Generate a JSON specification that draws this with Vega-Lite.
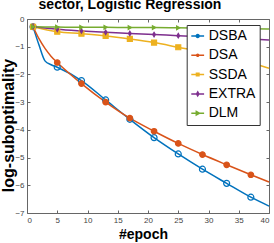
{
  "$schema": "https://vega.github.io/schema/vega-lite/v6.json",
  "autosize": {"type": "none"},
  "width": 242,
  "height": 194,
  "padding": {"left": 27, "top": 19, "right": 5, "bottom": 30},
  "config": {
    "font": "Liberation Sans",
    "view": {"stroke": null},
    "axis": {
      "grid": false,
      "domainColor": "#666",
      "tickColor": "#666",
      "labelColor": "#444",
      "labelFontSize": 8,
      "tickSize": -3,
      "labelPadding": 6,
      "titleColor": "black",
      "titleFontWeight": "bold"
    }
  },
  "title": {
    "text": "sector, Logistic Regression",
    "fontSize": 14,
    "fontWeight": "bold",
    "anchor": "middle",
    "dx": -18,
    "dy": 11,
    "baseline": "alphabetic",
    "offset": 3,
    "color": "black"
  },
  "data": {
    "values": [
      {"s": "DSBA", "e": 1, "v": -0.28}, {"s": "DSBA", "e": 2, "v": -0.95}, {"s": "DSBA", "e": 3, "v": -1.52}, {"s": "DSBA", "e": 4, "v": -1.65},
      {"s": "DSBA", "e": 5, "v": -1.74}, {"s": "DSBA", "e": 9, "v": -2.22}, {"s": "DSBA", "e": 13, "v": -2.92}, {"s": "DSBA", "e": 17, "v": -3.62},
      {"s": "DSBA", "e": 21, "v": -4.28}, {"s": "DSBA", "e": 25, "v": -4.87}, {"s": "DSBA", "e": 29, "v": -5.42}, {"s": "DSBA", "e": 33, "v": -5.93},
      {"s": "DSBA", "e": 37, "v": -6.43}, {"s": "DSBA", "e": 40, "v": -6.75},
      {"s": "DSA", "e": 1, "v": -0.28}, {"s": "DSA", "e": 2, "v": -0.72}, {"s": "DSA", "e": 3, "v": -1.07}, {"s": "DSA", "e": 4, "v": -1.35},
      {"s": "DSA", "e": 5, "v": -1.57}, {"s": "DSA", "e": 9, "v": -2.33}, {"s": "DSA", "e": 13, "v": -3.0}, {"s": "DSA", "e": 17, "v": -3.58},
      {"s": "DSA", "e": 21, "v": -4.05}, {"s": "DSA", "e": 25, "v": -4.49}, {"s": "DSA", "e": 29, "v": -4.89}, {"s": "DSA", "e": 33, "v": -5.26},
      {"s": "DSA", "e": 37, "v": -5.62}, {"s": "DSA", "e": 40, "v": -5.88},
      {"s": "SSDA", "e": 1, "v": -0.28}, {"s": "SSDA", "e": 5, "v": -0.46}, {"s": "SSDA", "e": 9, "v": -0.53}, {"s": "SSDA", "e": 13, "v": -0.61},
      {"s": "SSDA", "e": 17, "v": -0.72}, {"s": "SSDA", "e": 21, "v": -0.85}, {"s": "SSDA", "e": 25, "v": -1.02}, {"s": "SSDA", "e": 29, "v": -1.19},
      {"s": "SSDA", "e": 33, "v": -1.38}, {"s": "SSDA", "e": 37, "v": -1.58}, {"s": "SSDA", "e": 40, "v": -1.78},
      {"s": "EXTRA", "e": 1, "v": -0.28}, {"s": "EXTRA", "e": 5, "v": -0.37}, {"s": "EXTRA", "e": 9, "v": -0.43}, {"s": "EXTRA", "e": 13, "v": -0.48},
      {"s": "EXTRA", "e": 17, "v": -0.52}, {"s": "EXTRA", "e": 21, "v": -0.56}, {"s": "EXTRA", "e": 25, "v": -0.6}, {"s": "EXTRA", "e": 29, "v": -0.64},
      {"s": "EXTRA", "e": 33, "v": -0.68}, {"s": "EXTRA", "e": 37, "v": -0.72}, {"s": "EXTRA", "e": 40, "v": -0.76},
      {"s": "DLM", "e": 1, "v": -0.28}, {"s": "DLM", "e": 5, "v": -0.29}, {"s": "DLM", "e": 9, "v": -0.3}, {"s": "DLM", "e": 13, "v": -0.3},
      {"s": "DLM", "e": 17, "v": -0.31}, {"s": "DLM", "e": 21, "v": -0.31}, {"s": "DLM", "e": 25, "v": -0.32}, {"s": "DLM", "e": 29, "v": -0.33},
      {"s": "DLM", "e": 33, "v": -0.34}, {"s": "DLM", "e": 37, "v": -0.35}, {"s": "DLM", "e": 40, "v": -0.36}
    ]
  },
  "layer": [
    {
      "mark": {"type": "line", "strokeWidth": 1.5, "interpolate": "monotone"},
      "encoding": {
        "x": {
          "field": "e", "type": "quantitative",
          "scale": {"domain": [0, 40], "nice": false, "zero": false},
          "axis": {"orient": "bottom", "values": [0, 5, 10, 15, 20, 25, 30, 35, 40], "title": "#epoch", "titleFontSize": 14, "titleX": 116, "titleY": 25, "titleBaseline": "alphabetic"}
        },
        "y": {
          "field": "v", "type": "quantitative",
          "scale": {"domain": [-7, 0], "nice": false},
          "axis": {"orient": "left", "values": [-7, -6, -5, -4, -3, -2, -1, 0], "title": "log-suboptimality", "titleFontSize": 16, "titleX": -19, "titleY": 106, "titleBaseline": "middle", "titleAngle": 270}
        },
        "color": {
          "field": "s", "type": "nominal",
          "scale": {"domain": ["DSBA", "DSA", "SSDA", "EXTRA", "DLM"], "range": ["#0072BD", "#D95319", "#EDB120", "#7E2F8E", "#77AC30"]},
          "legend": null
        }
      }
    },
    {
      "transform": [{"filter": "(datum.e - 1) % 4 == 0"}],
      "mark": {"type": "point", "strokeWidth": 1.2, "opacity": 1},
      "encoding": {
        "x": {
          "field": "e", "type": "quantitative",
          "axis": {"orient": "top", "labels": false, "title": null, "values": [0, 5, 10, 15, 20, 25, 30, 35, 40]}
        },
        "y": {
          "field": "v", "type": "quantitative",
          "axis": {"orient": "right", "labels": false, "title": null, "values": [-7, -6, -5, -4, -3, -2, -1, 0]}
        },
        "shape": {
          "field": "s", "type": "nominal",
          "scale": {"domain": ["DSBA", "DSA", "SSDA", "EXTRA", "DLM"], "range": ["circle", "circle", "square", "M0,-1L0.6,0L0,1L-0.6,0Z", "triangle-right"]},
          "legend": null
        },
        "stroke": {
          "field": "s", "type": "nominal",
          "scale": {"domain": ["DSBA", "DSA", "SSDA", "EXTRA", "DLM"], "range": ["#0072BD", "#D95319", "#EDB120", "#7E2F8E", "#77AC30"]},
          "legend": null
        },
        "fill": {
          "field": "s", "type": "nominal",
          "scale": {"domain": ["DSBA", "DSA", "SSDA", "EXTRA", "DLM"], "range": ["transparent", "#D95319", "#EDB120", "#7E2F8E", "#77AC30"]},
          "legend": null
        },
        "size": {
          "field": "s", "type": "nominal",
          "scale": {"domain": ["DSBA", "DSA", "SSDA", "EXTRA", "DLM"], "range": [36, 14, 16, 36, 30]},
          "legend": null
        }
      }
    },
    {
      "transform": [{"filter": "false"}],
      "mark": {"type": "point", "size": 289, "strokeWidth": 1.5, "opacity": 1},
      "encoding": {
        "shape": {
          "field": "s", "type": "nominal",
          "scale": {"domain": ["DSBA", "DSA", "SSDA", "EXTRA", "DLM"], "range": [
            "M-1.28,0H1.28M-0.3,0A0.3,0.3 0 1,0 0.3,0A0.3,0.3 0 1,0 -0.3,0Z",
            "M-1.28,0H1.28M-0.2,0A0.2,0.2 0 1,0 0.2,0A0.2,0.2 0 1,0 -0.2,0Z",
            "M-1.28,0H1.28M-0.25,-0.25H0.25V0.25H-0.25Z",
            "M-1.28,0H1.28M0,-0.38L0.22,0L0,0.38L-0.22,0Z",
            "M-1.28,0H1.28M-0.28,-0.34L0.34,0L-0.28,0.34Z"
          ]},
          "legend": {
            "orient": "none", "legendX": 159.7, "legendY": 6, "direction": "vertical",
            "title": null, "labelFontSize": 14, "labelColor": "black", "padding": 4,
            "strokeColor": "#333", "fillColor": "white", "labelOffset": 4, "rowPadding": 5.3,
            "symbolStrokeWidth": 1.5
          }
        },
        "stroke": {
          "field": "s", "type": "nominal",
          "scale": {"domain": ["DSBA", "DSA", "SSDA", "EXTRA", "DLM"], "range": ["#0072BD", "#D95319", "#EDB120", "#7E2F8E", "#77AC30"]}
        },
        "fill": {
          "field": "s", "type": "nominal",
          "scale": {"domain": ["DSBA", "DSA", "SSDA", "EXTRA", "DLM"], "range": ["transparent", "#D95319", "#EDB120", "#7E2F8E", "#77AC30"]}
        }
      }
    }
  ],
  "resolve": {
    "scale": {"shape": "independent", "size": "independent", "fill": "independent", "stroke": "independent"},
    "axis": {"x": "independent", "y": "independent"}
  }
}
